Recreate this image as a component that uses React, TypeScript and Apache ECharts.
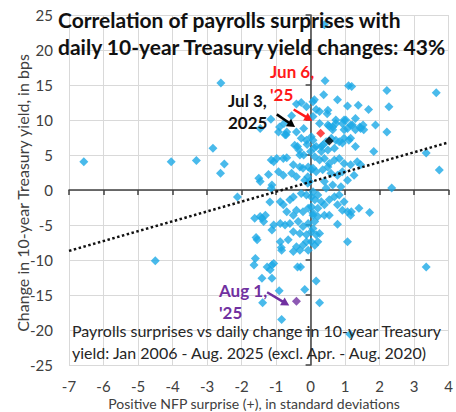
import React, { useEffect, useRef } from "react";
import * as echarts from "echarts";

// Blue points: [NFP surprise (std dev), change in 10y yield (bps)]
const surprisePoints: number[][] = [
  [0.4, 23.6], [-2.6, 15.3], [0.42, 15.6], [1.1, 14.9], [1.19, 14.8], [2.21, 14.2], [3.64, 13.9],
  [0.38, 13.6], [0.78, 12.9], [0.11, 12.9], [-0.41, 12.3], [-0.27, 12.5], [0.07, 12.6], [-0.12, 11.9],
  [1.07, 12.0], [1.38, 12.1], [1.68, 11.5], [2.27, 11.9], [0.16, 11.5], [0.26, 11.2], [0.5, 11.4],
  [0.48, 10.9], [-0.55, 10.6], [0.07, 10.5], [-1.15, 10.1], [0.73, 10.0], [1.02, 10.0], [1.3, 10.2],
  [-1.46, 8.8], [-0.9, 9.0], [-0.77, 9.5], [-0.69, 8.3], [-0.93, 8.3], [-0.71, 7.9], [-0.41, 8.3],
  [-0.2, 8.8], [-0.27, 7.4], [-0.12, 7.1], [0.02, 7.6], [2.21, 8.3], [1.88, 9.3], [1.43, 9.0],
  [1.52, 9.3], [0.64, 9.0], [0.73, 9.5], [0.97, 10.0], [1.16, 9.3], [0.26, 9.5], [0.54, 9.1],
  [0.97, 8.6], [1.45, 8.8], [1.54, 8.6], [0.5, 9.3], [0.64, 8.6], [0.92, 9.5], [1.07, 8.8],
  [1.21, 9.3], [1.3, 8.6], [0.07, 7.1], [0.16, 6.2], [0.31, 6.2], [0.45, 6.9], [0.73, 7.1],
  [0.92, 6.7], [1.11, 7.1], [1.3, 6.2], [0.6, 7.4], [0.83, 6.9], [0.97, 7.4], [1.16, 7.4],
  [0.35, 6.4], [0.31, 5.5], [0.5, 5.7], [0.69, 5.95], [-0.38, 6.2], [-0.34, 5.7], [-0.46, 6.4],
  [-0.74, 7.9], [-0.31, 5.0], [-0.1, 6.5], [0.0, 5.5], [-0.2, 5.0], [0.1, 6.0],
  [1.83, 5.5], [3.35, 5.3], [3.73, 2.86], [2.35, 0.3], [-6.57, 4.05], [-4.04, 4.05], [-3.31, 4.2],
  [-2.83, 5.95], [-2.5, 3.7], [-2.61, 2.4], [-2.12, -1.0],
  [-1.5, 1.67], [-1.46, 1.2], [-1.22, 2.2], [-1.12, 0.7], [-1.14, 0.24], [-1.14, 4.3], [-1.07, 4.05],
  [-0.98, 4.5], [-0.79, 4.5], [-0.69, 4.6], [-0.5, 3.6], [-0.31, 3.3], [-0.22, 3.1], [-0.07, 3.3],
  [0.02, 2.9], [-0.79, 2.1], [-0.93, 2.6], [-0.55, 2.4], [-0.41, 1.9], [-0.17, 1.4], [-0.03, 1.2],
  [-0.08, 1.9], [-0.08, 0.95],
  [0.12, 4.76], [0.26, 4.3], [0.4, 4.5], [0.54, 3.8], [0.69, 4.3], [0.83, 4.5], [0.97, 3.8],
  [1.16, 3.6], [1.35, 4.05], [1.45, 3.6], [0.07, 3.1], [0.16, 2.6], [0.35, 2.9], [0.5, 3.3],
  [0.59, 2.4], [0.78, 2.1], [0.92, 2.6], [1.07, 1.4], [1.26, 2.1], [0.4, 1.2], [0.64, 0.7],
  [0.88, 0.48], [0.45, 0.24],
  [0.07, -0.24], [0.21, -0.7], [0.12, -1.4], [0.31, -1.67], [0.02, -2.4], [0.21, -2.6], [0.4, -2.1],
  [0.54, -1.4], [0.69, -0.95], [0.83, -0.7], [0.97, -1.67], [0.78, -2.1], [0.92, -2.9], [1.07, -3.1],
  [1.16, -3.6], [1.4, -2.6], [1.71, -3.2], [1.18, -3.1], [0.07, -3.3], [0.21, -3.8], [0.12, -4.5],
  [0.4, -3.6], [0.54, -3.6], [0.78, -4.9], [0.02, -5.95], [0.16, -6.4], [0.21, -7.4], [0.12, -7.9],
  [0.26, -6.2], [1.07, -7.4],
  [-0.88, -1.67], [-0.79, -2.1], [-0.6, -1.4], [-0.5, -1.0], [-0.27, -0.5], [-0.12, -0.7], [0.02, -1.0],
  [-1.18, -1.7], [-0.69, -3.1], [-0.5, -3.6], [-0.41, -2.9], [-0.22, -3.1], [-0.07, -2.6], [0.07, -3.6],
  [-1.31, -3.6], [-1.41, -4.05], [-1.36, -4.5], [-1.62, -4.05], [-1.46, -3.8], [-1.07, -5.0], [-1.12, -5.7],
  [-0.88, -4.8], [-0.74, -5.0], [-0.6, -4.8], [-0.36, -4.5], [-0.22, -5.2], [-0.07, -4.8], [0.07, -5.5],
  [-0.5, -5.95], [-0.31, -6.2], [-0.12, -6.4], [-1.55, -7.1], [-1.58, -6.8], [-0.88, -7.4], [-0.65, -7.1],
  [-0.41, -8.1], [-0.22, -7.9], [-0.07, -8.6], [0.02, -7.4], [-0.85, -8.2], [-0.12, -7.4],
  [-0.84, -8.6], [-0.5, -8.8], [-0.31, -8.6], [-1.6, -9.8], [-1.64, -10.7], [-1.26, -11.0], [-1.12, -10.7],
  [-1.07, -10.5], [-1.17, -11.4], [-0.38, -11.0], [-0.29, -11.0], [-1.41, -12.6], [-1.12, -12.6],
  [0.16, -13.0], [-0.17, -14.2], [-0.91, -14.4], [-1.39, -16.1], [0.26, -16.1], [-0.84, -18.5],
  [1.14, -20.6], [-4.5, -10.1], [3.35, -11.0],
];

const jun6Point: number[][] = [[0.29, 8.1]];
const jul3Point: number[][] = [[0.54, 7.0]];
const aug1Point: number[][] = [[-0.41, -15.9]];

// Fitted trend line endpoints
const trendLine: number[][] = [[-7, -8.7], [4, 6.8]];

// Annotation arrows [from, to] in data units
const jun6Arrow: number[][] = [[-0.49, 11.5], [0.05, 9.9]];
const jul3Arrow: number[][] = [[-0.98, 10.8], [-0.45, 9.0]];
const aug1Arrow: number[][] = [[-1.26, -14.6], [-0.62, -16.5]];

const xMin = -7, xMax = 4, xStep = 1;
const yMin = -25, yMax = 25, yStep = 5;

const FONT = "Lato, 'Noto Sans', sans-serif";
const BLUE = "#1ba9e6";
const RED = "#ff1a1a";
const PURPLE = "#7030a0";
const AXIS_TEXT = "#404040";

export default function App() {
  const ref = useRef<HTMLDivElement>(null);
  useEffect(() => {
    if (!ref.current) return;
    const chart = echarts.init(ref.current, null, { renderer: "svg" });
    chart.setOption({
      animation: false,
      grid: { left: 69, right: 2, top: 15, bottom: 47, containLabel: false },
      xAxis: [
        {
          type: "value", min: xMin, max: xMax, interval: xStep, position: "bottom",
          axisLine: { show: false, onZero: false },
          axisTick: { show: false },
          splitLine: { show: true, lineStyle: { color: "#d9d9d9", width: 1 } },
          axisLabel: { color: AXIS_TEXT, fontSize: 15, fontFamily: FONT, margin: 13 },
        },
        {
          type: "value", min: xMin, max: xMax, interval: xStep, position: "bottom",
          axisLine: { show: true, onZero: true, onZeroAxisIndex: 0, lineStyle: { color: "#404040", width: 1.5 } },
          axisTick: { show: true, length: 5, lineStyle: { color: "#404040", width: 1.5 } },
          splitLine: { show: false },
          axisLabel: { show: false },
        },
      ],
      yAxis: [
        {
          type: "value", min: yMin, max: yMax, interval: yStep, position: "left",
          axisLine: { show: false, onZero: false },
          axisTick: { show: false },
          splitLine: { show: true, lineStyle: { color: "#d9d9d9", width: 1 } },
          axisLabel: { color: AXIS_TEXT, fontSize: 15, fontFamily: FONT, margin: 16 },
        },
        {
          type: "value", min: yMin, max: yMax, interval: yStep, position: "left",
          axisLine: { show: true, onZero: true, onZeroAxisIndex: 0, lineStyle: { color: "#404040", width: 1.5 } },
          axisTick: { show: true, length: 5, lineStyle: { color: "#404040", width: 1.5 } },
          splitLine: { show: false },
          axisLabel: { show: false },
        },
      ],
      series: [
        {
          type: "scatter", xAxisIndex: 0, yAxisIndex: 0, data: surprisePoints,
          symbol: "diamond", symbolSize: 9, itemStyle: { color: BLUE }, z: 2,
        },
        {
          type: "line", xAxisIndex: 0, yAxisIndex: 0, data: trendLine, symbol: "none",
          lineStyle: { color: "#111", width: 2.5, type: [2.5, 2.5] }, z: 3,
        },
        {
          type: "scatter", xAxisIndex: 0, yAxisIndex: 0, data: jun6Point,
          symbol: "diamond", symbolSize: 9, itemStyle: { color: RED }, z: 4,
        },
        {
          type: "scatter", xAxisIndex: 0, yAxisIndex: 0, data: jul3Point,
          symbol: "diamond", symbolSize: 9, itemStyle: { color: "#000" }, z: 4,
        },
        {
          type: "scatter", xAxisIndex: 0, yAxisIndex: 0, data: aug1Point,
          symbol: "diamond", symbolSize: 9, itemStyle: { color: PURPLE }, z: 4,
        },
      ],
    });

    const arrow = (pts: number[][], color: string) => {
      const a = chart.convertToPixel({ xAxisIndex: 0, yAxisIndex: 0 }, pts[0]) as number[];
      const b = chart.convertToPixel({ xAxisIndex: 0, yAxisIndex: 0 }, pts[1]) as number[];
      const dx = b[0] - a[0], dy = b[1] - a[1];
      const len = Math.hypot(dx, dy) || 1;
      const ux = dx / len, uy = dy / len;
      const headL = 8, headW = 4.5;
      const bx = b[0] - ux * headL, by = b[1] - uy * headL;
      return [
        {
          type: "line", z: 20, silent: true,
          shape: { x1: a[0], y1: a[1], x2: bx + ux * 1, y2: by + uy * 1 },
          style: { stroke: color, lineWidth: 2.5 },
        },
        {
          type: "polygon", z: 20, silent: true,
          shape: {
            points: [
              [b[0], b[1]],
              [bx - uy * headW, by + ux * headW],
              [bx + uy * headW, by - ux * headW],
            ],
          },
          style: { fill: color },
        },
      ];
    };

    chart.setOption({
      graphic: [
        ...arrow(jun6Arrow, RED),
        ...arrow(jul3Arrow, "#000"),
        ...arrow(aug1Arrow, PURPLE),
        {
          type: "text", left: 58, top: 9, z: 10,
          style: { text: "Correlation of payrolls surprises with", font: `bold 21px ${FONT}`, fill: "#111" },
        },
        {
          type: "text", left: 58, top: 36, z: 10,
          style: { text: "daily 10-year Treasury yield changes: 43%", font: `bold 21px ${FONT}`, fill: "#111" },
        },
        {
          type: "text", left: 270, top: 60, z: 10,
          style: { text: "Jun 6,\n'25", font: `bold 17px ${FONT}`, fill: RED, lineHeight: 23 },
        },
        {
          type: "text", left: 228, top: 89, z: 10,
          style: { text: "Jul 3,\n2025", font: `bold 17px ${FONT}`, fill: "#111", lineHeight: 22 },
        },
        {
          type: "text", left: 219, top: 279, z: 10,
          style: { text: "Aug 1,\n'25", font: `bold 17px ${FONT}`, fill: PURPLE, lineHeight: 22 },
        },
        {
          type: "text", left: 72, top: 319, z: 10,
          style: {
            text: "Payrolls surprises vs daily change in 10-year Treasury\nyield: Jan 2006 - Aug. 2025 (excl. Apr. - Aug. 2020)",
            font: `16px ${FONT}`, fill: "#262626", lineHeight: 22,
          },
        },
        {
          type: "text", x: 254, y: 403, z: 10,
          style: {
            text: "Positive NFP surprise (+), in standard deviations",
            font: `14px ${FONT}`, fill: AXIS_TEXT, align: "center", verticalAlign: "middle",
          },
        },
        {
          type: "text", x: 22, y: 193, rotation: Math.PI / 2, z: 10,
          style: {
            text: "Change in 10-year Treasury yield, in bps",
            font: `16px ${FONT}`, fill: AXIS_TEXT, align: "center", verticalAlign: "middle",
          },
        },
      ],
    });
    return () => chart.dispose();
  }, []);
  return (
    <div
      ref={ref}
      style={{ position: "fixed", left: 0, top: 0, width: 456, height: 412, background: "#fff" }}
    />
  );
}
